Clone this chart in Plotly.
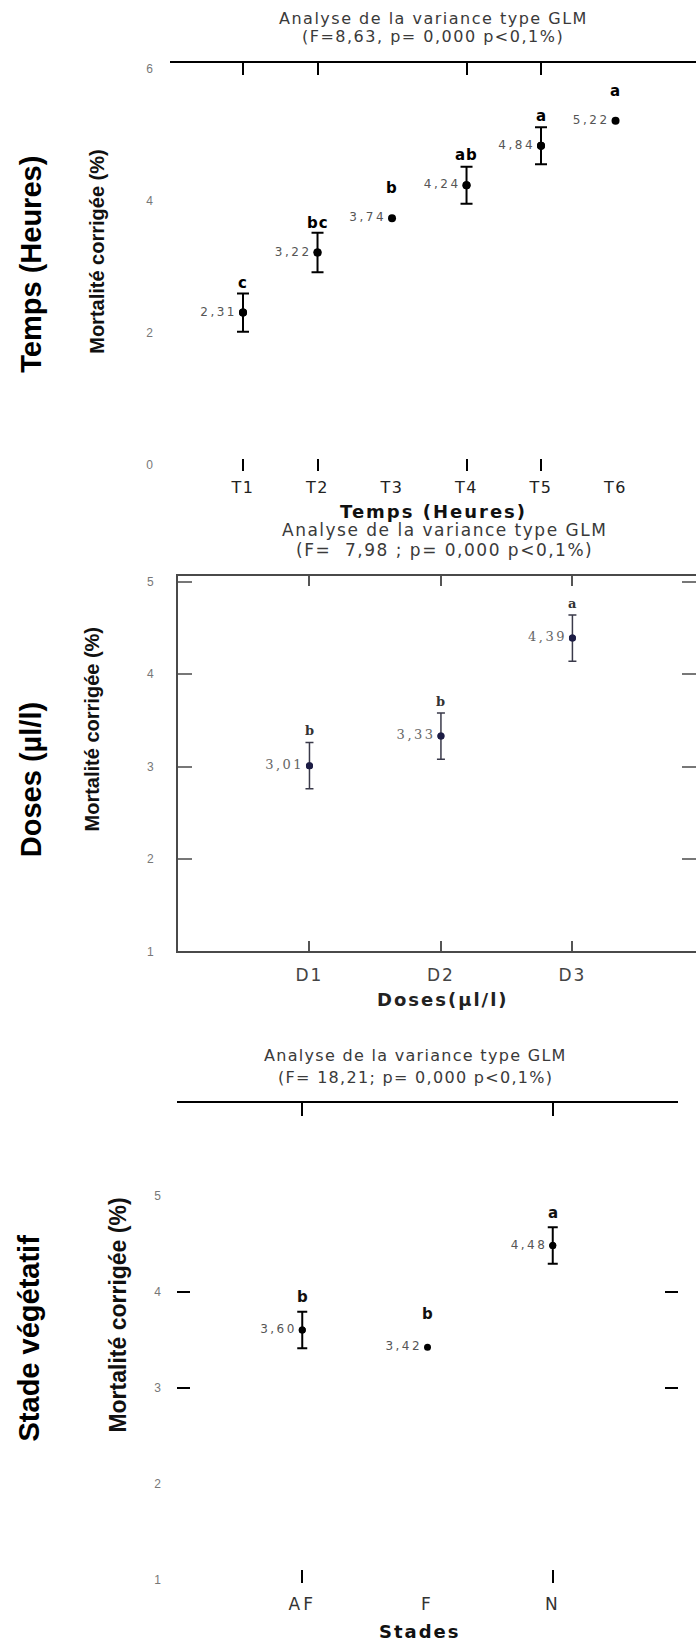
import plotly.graph_objects as go

W, H = 696, 1649

# ---------------- data ----------------
# Panel 1 : Temps (Heures)
temps_cats = ["T1", "T2", "T3", "T4", "T5", "T6"]
temps_vals = [2.31, 3.22, 3.74, 4.24, 4.84, 5.22]
temps_err = [0.29, 0.30, None, 0.28, 0.28, None]
temps_letters = ["c", "bc", "b", "ab", "a", "a"]
temps_tick_cats = ["T1", "T2", "T4", "T5"]
temps_yticks = [0, 2, 4, 6]
temps_title = ["Analyse de la variance type GLM", "(F=8,63, p= 0,000 p<0,1%)"]

# Panel 2 : Doses
dose_cats = ["D1", "D2", "D3"]
dose_vals = [3.01, 3.33, 4.39]
dose_err = [0.25, 0.25, 0.25]
dose_letters = ["b", "b", "a"]
dose_yticks = [1, 2, 3, 4, 5]
dose_title = ["Analyse de la variance type GLM", "(F=  7,98 ; p= 0,000 p<0,1%)"]

# Panel 3 : Stade végétatif
stade_cats = ["AF", "F", "N"]
stade_vals = [3.60, 3.42, 4.48]
stade_err = [0.19, None, 0.19]
stade_letters = ["b", "b", "a"]
stade_tick_cats = ["AF", "N"]
stade_yticks = [1, 2, 3, 4, 5, 6]
stade_side_ticks = [3, 4]
stade_title = ["Analyse de la variance type GLM", "(F= 18,21; p= 0,000 p<0,1%)"]

ytitle = "Mortalité corrigée (%)"


def fmt(v):
    return f"{v:.2f}".replace(".", ",")


def sp(s, ls):
    return f'<span style="letter-spacing:{ls}px">{s}</span>'


def px_x(x):
    return x / W


def px_y(y):
    return 1 - y / H


fig = go.Figure()


def add_panel(cats, vals, errs, xa, ya, mcolor, msize, ecolor, ethick, ewidth, tfont, ls):
    fig.add_trace(go.Scatter(
        x=cats, y=vals, xaxis=xa, yaxis=ya, mode="markers+text",
        marker=dict(color=mcolor, size=msize),
        text=[sp(fmt(v), ls) for v in vals], textposition="middle left",
        textfont=tfont, showlegend=False, hoverinfo="skip", cliponaxis=False))
    idx = [i for i, e in enumerate(errs) if e is not None]
    fig.add_trace(go.Scatter(
        x=[cats[i] for i in idx], y=[vals[i] for i in idx],
        xaxis=xa, yaxis=ya, mode="markers",
        marker=dict(color=mcolor, size=msize),
        error_y=dict(type="data", array=[errs[i] for i in idx], visible=True,
                     color=ecolor, thickness=ethick, width=ewidth),
        showlegend=False, hoverinfo="skip"))


def ghost(cats, vals, xa, ya):
    fig.add_trace(go.Scatter(x=cats, y=vals, xaxis=xa, yaxis=ya, mode="markers",
                             marker=dict(opacity=0), showlegend=False, hoverinfo="skip"))


add_panel(temps_cats, temps_vals, temps_err, "x", "y", "#000000", 8, "#000000", 2, 6,
          dict(family="DejaVu Sans", size=12, color="#555555"), 2.5)
add_panel(dose_cats, dose_vals, dose_err, "x2", "y2", "#1c1c44", 7, "#3a3a4a", 1.5, 4,
          dict(family="DejaVu Serif", size=13, color="#666666"), 2.5)
add_panel(stade_cats, stade_vals, stade_err, "x3", "y3", "#000000", 7, "#000000", 2, 5,
          dict(family="DejaVu Sans", size=12, color="#555555"), 2.5)

ghost(temps_cats, temps_vals, "x4", "y")
ghost(temps_cats, temps_vals, "x5", "y")
ghost(dose_cats, dose_vals, "x2", "y4")
ghost(stade_cats, stade_vals, "x6", "y3")
ghost(stade_cats, stade_vals, "x7", "y3")
ghost(stade_cats, stade_vals, "x3", "y5")
ghost(stade_cats, stade_vals, "x3", "y6")

# ---------------- axes ----------------
p1_dom_x = [px_x(170), 1.0]
p1_dom_y = [px_y(472), px_y(62)]
p1_xr = [-0.98, 6.08]
p1_yr = [-0.09, 6.1]

p2_dom_x = [px_x(178), 1.0]
p2_dom_y = [px_y(955), px_y(578)]
p2_xr = [-1.0, 2.94]
p2_yr = [1.0, 5.06]

p3_dom_x = [px_x(177), px_x(678)]
p3_dom_y = [px_y(1590), px_y(1107)]
p3_xr = [-1.0, 3.0]
p3_yr = [0.96, 5.97]

blank = dict(showgrid=False, zeroline=False)
ytick_font = dict(family="Liberation Sans", size=12, color="#777777")

layout = dict(
    width=W, height=H, margin=dict(l=0, r=0, t=0, b=0),
    paper_bgcolor="white", plot_bgcolor="white",
    # panel 1
    xaxis=dict(domain=p1_dom_x, anchor="y", type="category", categoryarray=temps_cats,
               range=p1_xr, showline=False, ticks="",
               tickvals=temps_cats, ticktext=[sp(c, 1.5) for c in temps_cats],
               tickfont=dict(family="DejaVu Sans", size=16, color="#222222"),
               ticklabelstandoff=5, **blank),
    xaxis4=dict(overlaying="x", anchor="y", side="bottom", type="category",
                categoryarray=temps_cats, range=p1_xr, showline=False,
                ticks="inside", ticklen=12, tickwidth=2, tickcolor="#000000",
                tickvals=temps_tick_cats, showticklabels=False, **blank),
    xaxis5=dict(overlaying="x", anchor="y", side="top", type="category",
                categoryarray=temps_cats, range=p1_xr, showline=True,
                linecolor="#000000", linewidth=2,
                ticks="inside", ticklen=12, tickwidth=2, tickcolor="#000000",
                tickvals=temps_tick_cats, showticklabels=False, **blank),
    yaxis=dict(domain=p1_dom_y, anchor="x", range=p1_yr, tickvals=temps_yticks,
               showline=False, ticks="", ticklabelstandoff=16, tickfont=ytick_font, **blank),
    # panel 2
    xaxis2=dict(domain=p2_dom_x, anchor="y2", type="category", categoryarray=dose_cats,
                range=p2_xr, showline=True, linecolor="#4a4a4a", linewidth=2,
                mirror="ticks", ticks="inside", ticklen=10, tickwidth=1.5,
                tickcolor="#555555", ticklabelstandoff=7,
                tickvals=dose_cats, ticktext=[sp(c, 2) for c in dose_cats],
                tickfont=dict(family="DejaVu Sans", size=17, color="#444444"), **blank),
    yaxis2=dict(domain=p2_dom_y, anchor="x2", range=p2_yr, tickvals=dose_yticks,
                showline=True, linecolor="#4a4a4a", linewidth=2, ticks="inside",
                ticklen=14, tickwidth=1.5, tickcolor="#777777",
                ticklabelstandoff=20, tickfont=ytick_font, **blank),
    yaxis4=dict(overlaying="y2", anchor="x2", side="right", range=p2_yr,
                tickvals=dose_yticks, showline=False, ticks="inside", ticklen=14,
                tickwidth=1.5, tickcolor="#777777", showticklabels=False, **blank),
    # panel 3
    xaxis3=dict(domain=p3_dom_x, anchor="y3", type="category", categoryarray=stade_cats,
                range=p3_xr, showline=False, ticks="", ticklabelstandoff=9,
                tickvals=stade_cats, ticktext=[sp(c, 3) for c in stade_cats],
                tickfont=dict(family="DejaVu Sans", size=17, color="#333333"), **blank),
    xaxis6=dict(overlaying="x3", anchor="y3", side="bottom", type="category",
                categoryarray=stade_cats, range=p3_xr, showline=False,
                ticks="inside", ticklen=13, tickwidth=2, tickcolor="#000000",
                tickvals=stade_tick_cats, showticklabels=False, **blank),
    xaxis7=dict(overlaying="x3", anchor="y3", side="top", type="category",
                categoryarray=stade_cats, range=p3_xr, showline=True,
                linecolor="#000000", linewidth=2,
                ticks="inside", ticklen=13, tickwidth=2, tickcolor="#000000",
                tickvals=stade_tick_cats, showticklabels=False, **blank),
    yaxis3=dict(domain=p3_dom_y, anchor="x3", range=p3_yr, tickvals=stade_yticks,
                showline=False, ticks="", ticklabelstandoff=15, tickfont=ytick_font, **blank),
    yaxis5=dict(overlaying="y3", anchor="x3", side="right", range=p3_yr,
                tickvals=stade_side_ticks, showline=False, ticks="inside", ticklen=13,
                tickwidth=2, tickcolor="#000000", showticklabels=False, **blank),
    yaxis6=dict(overlaying="y3", anchor="x3", side="left", range=p3_yr,
                tickvals=stade_side_ticks, showline=False, ticks="inside",
                ticklen=13, tickwidth=2, tickcolor="#000000",
                showticklabels=False, **blank),
)
fig.update_layout(**layout)

annotations = []


def letters(cats, vals, lets, xa, ya, shift, font, ls):
    for c, v, l in zip(cats, vals, lets):
        annotations.append(dict(x=c, y=v, xref=xa, yref=ya, text=sp(l, ls), showarrow=False,
                                yshift=shift, font=font))


letters(temps_cats, temps_vals, temps_letters, "x", "y", 30,
        dict(family="DejaVu Sans", size=15, color="#000000", weight="bold"), 1)
letters(dose_cats, dose_vals, dose_letters, "x2", "y2", 35,
        dict(family="DejaVu Serif", size=13, color="#333333", weight="bold"), 0)
letters(stade_cats, stade_vals, stade_letters, "x3", "y3", 33,
        dict(family="DejaVu Sans", size=15, color="#111111", weight="bold"), 0)


def text_at(x, y, text, font, angle=0):
    annotations.append(dict(x=px_x(x), y=px_y(y), xref="paper", yref="paper", text=text,
                            showarrow=False, textangle=angle, font=font,
                            xanchor="center", yanchor="middle"))


def title_at(x, y1, y2, lines, size, ls):
    f = dict(family="DejaVu Sans", size=size, color="#3a3a3a")
    text_at(x, y1, sp(lines[0], ls), f)
    text_at(x, y2, sp(lines[1], ls), f)


# titles
title_at(433, 18, 36, temps_title, 16, 1.5)
title_at(444, 532, 552, dose_title, 17, 1.5)
title_at(415, 1060, 1082, stade_title, 16, 1.3)

# x axis titles
text_at(433, 513, sp("Temps (Heures)", 2),
        dict(family="DejaVu Sans", size=18, color="#111111", weight="bold"))
text_at(443, 1003, sp("Doses(µl/l)", 2),
        dict(family="DejaVu Sans", size=18, color="#222222", weight="bold"))
text_at(420, 1638, sp("Stades", 2),
        dict(family="DejaVu Sans", size=18, color="#111111", weight="bold"))

# y axis titles
text_at(97, 252, ytitle, dict(family="Liberation Sans", size=20, color="#111111", weight="bold"), -90)
text_at(92, 732, ytitle, dict(family="Liberation Sans", size=20, color="#111111", weight="bold"), -90)
text_at(118, 1320, ytitle, dict(family="Liberation Sans", size=23, color="#111111", weight="bold"), -90)

# big row labels
big_font = dict(family="Liberation Sans", size=29, color="#000000", weight="bold")
text_at(31, 265, "Temps (Heures)", big_font, -90)
text_at(31, 783, "Doses (µl/l)", big_font, -90)
text_at(29, 1344, "Stade végétatif", big_font, -90)

fig.update_layout(annotations=annotations)

fig.write_html("out.html")
